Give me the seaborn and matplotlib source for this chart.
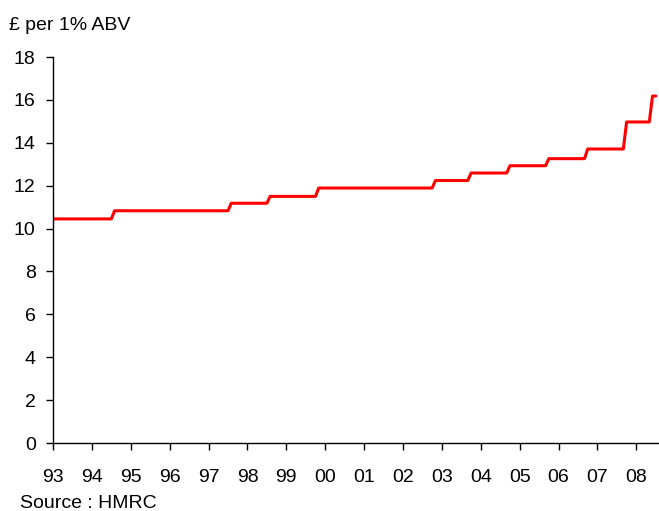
import matplotlib
matplotlib.use("Agg")
import matplotlib.pyplot as plt
import seaborn as sns
import pandas as pd

# Spirits duty, £ per 1% ABV, months counted from January 1993
start_month = [0, 19, 55, 67, 82, 118, 129, 141, 153, 165, 177, 185]
duty_rate = [10.45, 10.83, 11.18, 11.50, 11.89, 12.24, 12.59, 12.93, 13.26, 13.71, 14.97, 16.18]
last_month = 186

year_labels = ["93", "94", "95", "96", "97", "98", "99", "00",
               "01", "02", "03", "04", "05", "06", "07", "08"]
y_ticks = [0, 2, 4, 6, 8, 10, 12, 14, 16, 18]

# each rate holds from its start month until the month before the next change
end_month = [m - 1 for m in start_month[1:]] + [last_month]
xs, ys = [], []
for s, e, r in zip(start_month, end_month, duty_rate):
    xs += [s, e]
    ys += [r, r]
df = pd.DataFrame({"month": xs, "duty": ys})

sns.set_theme(style="ticks")
plt.rcParams["font.family"] = ["Liberation Sans", "DejaVu Sans"]

FS = 14

fig = plt.figure(figsize=(6.59, 5.11), dpi=100)
ax = fig.add_axes([53 / 659, 1 - 443 / 511, 1 - 53 / 659, (443 - 57) / 511])

sns.lineplot(data=df, x="month", y="duty", ax=ax, color="#ff0000",
             linewidth=2.2, sort=False, estimator=None)

ax.set_xlim(0, 187)
ax.set_ylim(0, 18)
ax.set_xticks([12 * i for i in range(len(year_labels))])
ax.set_xticklabels(year_labels)
ax.set_yticks(y_ticks)
ax.set_xlabel("")
ax.set_ylabel("")

for side in ("top", "right"):
    ax.spines[side].set_visible(False)
for side in ("left", "bottom"):
    ax.spines[side].set_color("#000000")
    ax.spines[side].set_linewidth(1.0)

ax.tick_params(axis="both", colors="#000000", labelsize=FS, length=5,
               width=1.0, direction="out")
ax.tick_params(axis="x", pad=13.5)
ax.tick_params(axis="y", pad=7.5)

fig.text(9 / 659, 1 - 25 / 511, "£ per 1% ABV", fontsize=FS,
         ha="left", va="center", color="#000000")
fig.text(20 / 659, 1 - 503 / 511, "Source : HMRC", fontsize=FS,
         ha="left", va="center", color="#000000")

fig.savefig("out.png", dpi=100)
